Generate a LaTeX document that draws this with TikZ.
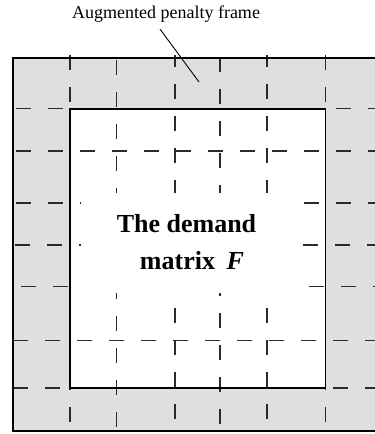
\documentclass[tikz,border=0pt]{standalone}
\usepackage{fontspec}
\setmainfont{Liberation Serif}
\usetikzlibrary{positioning, calc}
\definecolor{cband}{HTML}{DFDFDF}
\definecolor{cdash}{HTML}{2A2A2A}
\tikzset{
  every picture/.style={x=1pt, y=-1pt},
  band/.style={fill=cband},
  frameline/.style={draw=black, line width=#1},
  frameline/.default=1.3pt,
  gridline/.style={draw=cdash, line width=1.1pt, dash pattern=on 15pt off 17pt, dash phase=#1},
  gridline/.default=0pt,
  label/.style={font=\fontsize{18}{20}\selectfont, inner sep=0pt},
  matrixtext/.style={font=\fontsize{26}{37}\selectfont\bfseries, align=center, fill=white,
    minimum width=221pt, minimum height=100pt, inner sep=0pt},
}

\begin{document}
\begin{tikzpicture}
  \clip (0,0) rectangle (375,434);
  % penalty frame and demand area
  \fill[band] (13,58) rectangle (385,431);
  \fill[white] (70,108.7) rectangle (325.5,388);
  % grid of the augmented matrix
  \foreach \gx/\ph in {70/0, 116.7/27, 175/3, 220/30, 267/3, 325.5/0}
    \draw[gridline=\ph] (\gx,55) -- (\gx,431);
  \foreach \gy/\ph in {108.7/29, 151/29, 203/29, 245/30, 286.7/24, 340.7/32, 388/32}
    \draw[gridline=\ph] (13,\gy) -- (375,\gy);
  \node[matrixtext] (dem) at (191,242.5)
    {The demand\rule{9pt}{0pt}\\\rule{2pt}{0pt}matrix\hspace{0.45em}\textit{F}};
  \draw[frameline=1.6pt] (70,108.7) rectangle (325.5,388);
  \draw[frameline] (13,58) rectangle (385,431);
  % leader
  \node[label, anchor=base] (title) at (166,18) {Augmented penalty frame};
  \coordinate (tip) at (199,82);
  \draw[line width=0.9pt] ([xshift=-6pt,yshift=-7pt]title.south) -- (tip);
\end{tikzpicture}
\end{document}
